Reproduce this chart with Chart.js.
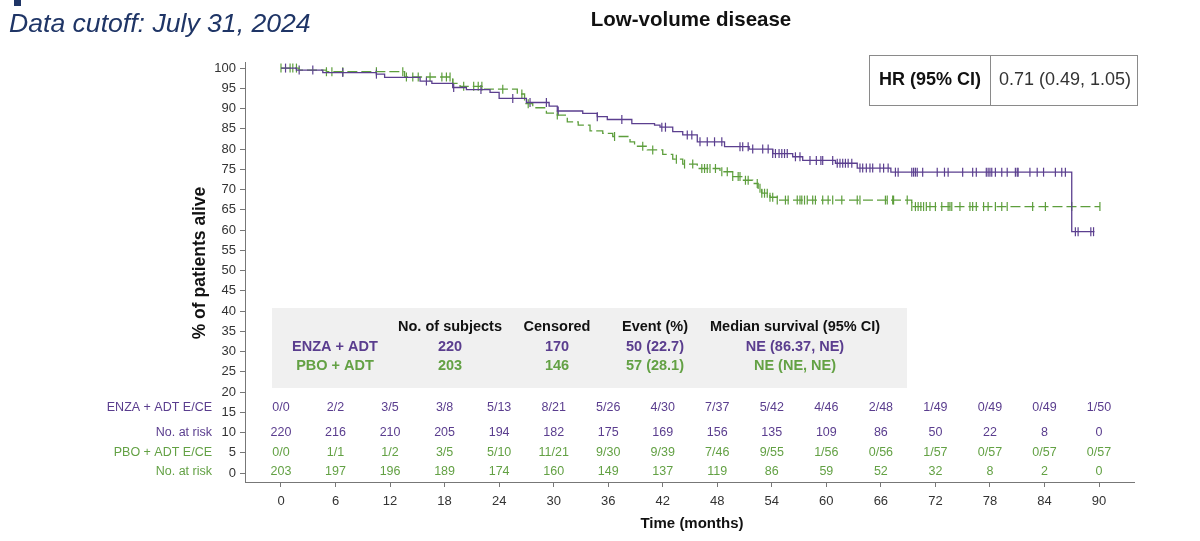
<!DOCTYPE html>
<html>
<head>
<meta charset="utf-8">
<script src="https://cdn.jsdelivr.net/npm/chart.js@4.4.0/dist/chart.umd.min.js"></script>
<style>
  html,body{margin:0;padding:0;background:#fff;}
  #c{display:block;}
</style>
</head>
<body>
<canvas id="c" width="1200" height="541"></canvas>
<script>
// KM steps: time (months) and % alive after each drop
const enzaT = [0,1.7,4.6,10.5,11.4,15.3,16.6,18.9,20.4,23,24,27,29.5,30.4,33.2,34.8,35.9,38.6,41.1,41.7,43.1,44.2,45.8,48.8,51.5,54.1,56.3,57.4,61,63.4,67.1,87,89.5];
const enzaS = [100,99.5,98.9,98.5,97.7,96.8,96.2,95.2,94.7,94,92.5,91.5,90.6,89.4,88.8,88,87.3,86.3,85.9,85.4,84.3,83.5,81.8,80.6,80,78.9,78.1,77.2,76.5,75.3,74.3,59.6,59.6];
const pboT = [0,2,5,13.6,18.9,19.7,22.2,26,26.8,27.7,29.2,30.4,31.5,32.7,34,35.4,36.5,38.4,38.9,40.3,42,43.1,44.2,45.8,48.3,49.7,50.8,51.9,52.5,52.9,53.8,54.6,69.4,90.1];
const pboS = [100,99.5,99.1,97.8,96.2,95.5,94.8,93.6,91.2,90.2,88.9,88.4,86.7,85.9,84.5,83.9,83.1,81.8,80.7,79.8,78.7,77.5,76.3,75.2,74.4,73.2,72.3,71.5,70.3,69.1,68.1,67.4,65.8,65.8];

// censoring times
const enzaCens = [0.5,2,3.5,6.8,10.5,16,19,22,25.5,27.4,29.2,30.5,34.8,37.5,41.9,42.3,44.7,45.2,46.1,46.9,47.7,48.5,50.5,50.8,51.4,51.9,53,53.6,54.1,54.4,54.8,55.1,55.4,55.7,56.6,57.1,58.2,58.9,59.4,59.6,60.7,61.2,61.5,61.8,62.1,62.4,62.8,63.7,64,64.4,64.8,65.1,65.9,66.3,66.8,67.6,67.9,69.4,69.6,69.8,70,70.6,72.2,73,73.4,75,76.1,76.5,77.6,77.8,78,78.2,78.6,79.3,79.9,80.8,81,81.1,82.4,83.2,83.9,85.2,85.9,86.3,87.4,87.7,89.1,89.4];
const pboCens = [0,1,1.3,1.7,5,5.6,6.8,10.5,13.4,13.8,14.5,15.1,16.4,17.7,18.2,18.6,18.9,20.1,21.2,21.7,22.1,24.4,26.5,27.2,30.4,36.7,39.8,40.9,43.5,44.4,45.3,46.3,46.6,46.9,47.2,47.8,48.5,49.1,49.7,50.3,50.5,51.1,51.4,52.4,52.7,52.9,53.2,53.5,53.8,54.1,54.6,55.5,55.8,56.8,57.1,57.3,57.6,57.9,58.5,58.8,59.6,60.2,60.7,61.7,63.4,63.7,66.5,66.7,67.3,67.4,68.9,69.4,69.8,70.1,70.4,70.7,71,71.4,72,72.7,73.4,73.6,73.8,74.7,75.8,76.1,76.5,77.3,77.8,78.6,79.3,79.9,82.7,84.1,87,90.1];

// number at risk table
const riskTimes = [0,6,12,18,24,30,36,42,48,54,60,66,72,78,84,90];
const enzaECE = ['0/0','2/2','3/5','3/8','5/13','8/21','5/26','4/30','7/37','5/42','4/46','2/48','1/49','0/49','0/49','1/50'];
const enzaRisk = [220,216,210,205,194,182,175,169,156,135,109,86,50,22,8,0];
const pboECE = ['0/0','1/1','1/2','3/5','5/10','11/21','9/30','9/39','7/46','9/55','1/56','0/56','1/57','0/57','0/57','0/57'];
const pboRisk = [203,197,196,189,174,160,149,137,119,86,59,52,32,8,2,0];

// summary table
const sumHeaders = ['No. of subjects','Censored','Event (%)','Median survival (95% CI)'];
const sumEnza = ['220','170','50 (22.7)','NE (86.37, NE)'];
const sumPbo = ['203','146','57 (28.1)','NE (NE, NE)'];

const yTicks = [0,5,10,15,20,25,30,35,40,45,50,55,60,65,70,75,80,85,90,95,100];
const xTicks = [0,6,12,18,24,30,36,42,48,54,60,66,72,78,84,90];

const PURPLE = '#5b3f8f';
const GREEN = '#5d9e3c';
const PURPLE_TXT = '#5a3d8e';
const GREEN_TXT = '#63a144';
const FF = '"Liberation Sans", Arial, sans-serif';

function survAt(ts, ss, t){
  let v = ss[0];
  for(let i=0;i<ts.length;i++){ if(ts[i] <= t) v = ss[i]; }
  return v;
}
const pts = (ts,ss)=>ts.map((t,i)=>({x:t,y:ss[i]}));
const cens = (c,ts,ss)=>c.map(t=>({x:t,y:survAt(ts,ss,t)}));

const overlay = {
  id:'overlay',
  beforeDraw(chart){
    const ctx = chart.ctx;
    ctx.save();
    ctx.fillStyle='#fff';
    ctx.fillRect(0,0,chart.width,chart.height);
    // grey summary box
    ctx.fillStyle='#f0f0f0';
    ctx.fillRect(272,308,635,80);
    ctx.restore();
  },
  afterDraw(chart){
    const ctx = chart.ctx, xs = chart.scales.x;
    ctx.save();
    // corner mark + cutoff text
    ctx.fillStyle='#1f3566';
    ctx.fillRect(14,0,7,6);
    ctx.font='italic 26.6px '+FF;
    ctx.textBaseline='middle';
    ctx.textAlign='left';
    ctx.fillText('Data cutoff: July 31, 2024',9,25);

    // title
    ctx.fillStyle='#111';
    ctx.font='bold 20.5px '+FF;
    ctx.textAlign='center';
    ctx.fillText('Low-volume disease',691,20);

    // HR box
    ctx.strokeStyle='#8a8a8a';
    ctx.lineWidth=1;
    ctx.strokeRect(869.5,55.5,268,50);
    ctx.beginPath(); ctx.moveTo(990.5,55.5); ctx.lineTo(990.5,105.5); ctx.stroke();
    ctx.font='bold 18px '+FF;
    ctx.fillStyle='#111';
    ctx.fillText('HR (95% CI)',930,80);
    ctx.font='18px '+FF;
    ctx.fillStyle='#333';
    ctx.fillText('0.71 (0.49, 1.05)',1065,80);

    // summary table
    const cols = [450,557,655,795];
    ctx.font='bold 14.5px '+FF;
    ctx.fillStyle='#111';
    sumHeaders.forEach((h,i)=>ctx.fillText(h,cols[i],327));
    ctx.fillStyle=PURPLE_TXT;
    ctx.fillText('ENZA + ADT',335,347);
    sumEnza.forEach((h,i)=>ctx.fillText(h,cols[i],347));
    ctx.fillStyle=GREEN_TXT;
    ctx.fillText('PBO + ADT',335,366);
    sumPbo.forEach((h,i)=>ctx.fillText(h,cols[i],366));

    // at-risk rows
    ctx.font='12.5px '+FF;
    ctx.textAlign='right';
    ctx.fillStyle=PURPLE_TXT;
    ctx.fillText('ENZA + ADT E/CE',212,408);
    ctx.fillText('No. at risk',212,433);
    ctx.fillStyle=GREEN_TXT;
    ctx.fillText('PBO + ADT E/CE',212,453);
    ctx.fillText('No. at risk',212,472);
    ctx.textAlign='center';
    riskTimes.forEach((t,i)=>{
      const px = xs.getPixelForValue(t);
      ctx.fillStyle=PURPLE_TXT;
      ctx.fillText(enzaECE[i],px,408);
      ctx.fillText(String(enzaRisk[i]),px,433);
      ctx.fillStyle=GREEN_TXT;
      ctx.fillText(pboECE[i],px,453);
      ctx.fillText(String(pboRisk[i]),px,472);
    });

    // axis titles
    ctx.fillStyle='#111';
    ctx.font='bold 15px '+FF;
    ctx.fillText('Time (months)',692,524);
    ctx.translate(200,263);
    ctx.rotate(-Math.PI/2);
    ctx.font='bold 17.5px '+FF;
    ctx.fillText('% of patients alive',0,0);
    ctx.restore();
  }
};

new Chart(document.getElementById('c'),{
  type:'line',
  data:{
    datasets:[
      {data:pts(enzaT,enzaS),borderColor:PURPLE,borderWidth:1.3,stepped:true,pointRadius:0,fill:false},
      {data:pts(pboT,pboS),borderColor:GREEN,borderWidth:1.3,borderDash:[10,4],stepped:true,pointRadius:0,fill:false},
      {data:cens(enzaCens,enzaT,enzaS),showLine:false,pointStyle:'line',rotation:90,pointRadius:4.5,pointBorderWidth:1.2,pointBorderColor:PURPLE,borderColor:PURPLE},
      {data:cens(pboCens,pboT,pboS),showLine:false,pointStyle:'line',rotation:90,pointRadius:4.5,pointBorderWidth:1.2,pointBorderColor:GREEN,borderColor:GREEN}
    ]
  },
  options:{
    responsive:false,
    animation:false,
    devicePixelRatio:1,
    layout:{padding:{left:0,right:66,top:62,bottom:0}},
    plugins:{legend:{display:false},tooltip:{enabled:false}},
    scales:{
      x:{
        type:'linear',min:-3.96,max:93.85,
        afterBuildTicks:s=>{s.ticks=xTicks.map(v=>({value:v}));},
        afterFit:s=>{s.height=59;},
        grid:{drawOnChartArea:false,drawTicks:true,tickLength:5,color:'#777'},
        border:{display:true,color:'#777',width:1},
        ticks:{font:{size:13,family:FF},color:'#333',padding:7,maxRotation:0,autoSkip:false}
      },
      y:{
        type:'linear',min:-2.2,max:101.5,
        afterBuildTicks:s=>{s.ticks=yTicks.map(v=>({value:v}));},
        afterFit:s=>{s.width=245;},
        grid:{drawOnChartArea:false,drawTicks:true,tickLength:5,color:'#777'},
        border:{display:true,color:'#777',width:1},
        ticks:{font:{size:13,family:FF},color:'#333',padding:4,autoSkip:false}
      }
    }
  },
  plugins:[overlay]
});
</script>
</body>
</html>
